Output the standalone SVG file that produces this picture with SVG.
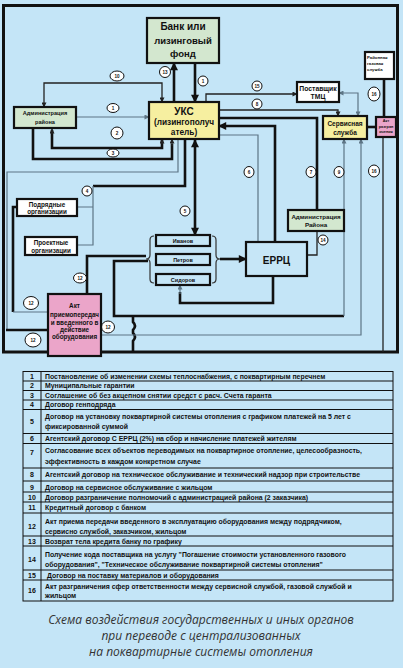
<svg xmlns="http://www.w3.org/2000/svg" width="403" height="668" viewBox="0 0 403 668">
<defs>
<style>
.t{font-family:"Liberation Sans",Arial,sans-serif;font-weight:bold;fill:#111;text-anchor:middle}
.tl{font-family:"Liberation Sans",Arial,sans-serif;font-weight:bold;fill:#111}
.box{stroke:#111;stroke-width:2.2}
.green{fill:#d3e7cf}
.yellow{fill:#f6efa0}
.pink{fill:#eba5c9}
.white{fill:#fff}
.blue{fill:#c6e6f7}
.thick{stroke:#111;stroke-width:2.6;fill:none}
.med{stroke:#222;stroke-width:1.3;fill:none}
.thin{stroke:#5d7585;stroke-width:1.2;fill:none}
.circ{fill:#fff;stroke:#111;stroke-width:1}
.ct{font-family:"Liberation Sans",Arial,sans-serif;font-weight:bold;font-size:4.6px;fill:#111;text-anchor:middle}
.row{font-family:"Liberation Sans",Arial,sans-serif;font-weight:bold;font-size:6.9px;fill:#111}
.num{font-family:"Liberation Sans",Arial,sans-serif;font-weight:bold;font-size:7px;fill:#111;text-anchor:middle}
.cap{font-family:"Open Sans","Noto Sans",sans-serif;font-style:italic;font-size:12px;fill:#333;text-anchor:middle}
</style>
<marker id="aL" viewBox="0 0 10 10" refX="9" refY="5" markerWidth="9" markerHeight="8" markerUnits="userSpaceOnUse" orient="auto-start-reverse"><path d="M0,0 L10,5 L0,10 z" fill="#111"/></marker>
<marker id="aS" viewBox="0 0 10 10" refX="9" refY="5" markerWidth="6" markerHeight="5" markerUnits="userSpaceOnUse" orient="auto-start-reverse"><path d="M0,0 L10,5 L0,10 z" fill="#222"/></marker>
<marker id="aG" viewBox="0 0 10 10" refX="9" refY="5" markerWidth="6" markerHeight="5" markerUnits="userSpaceOnUse" orient="auto-start-reverse"><path d="M0,0 L10,5 L0,10 z" fill="#5d7585"/></marker>
</defs>
<rect x="0" y="0" width="403" height="668" fill="#c4e5f7"/>
<rect x="3.5" y="5.5" width="394" height="346.5" fill="none" stroke="#111" stroke-width="3"/>

<g id="connectors">
<line class="thick" x1="195" y1="63" x2="195" y2="102" marker-end="url(#aL)"/>
<line class="thick" x1="174" y1="102" x2="174" y2="63" marker-end="url(#aL)"/>
<path class="med" d="M44,107 L44,83 L162,83 L162,102" marker-start="url(#aS)" marker-end="url(#aS)"/>
<line class="thin" x1="76" y1="117" x2="149" y2="117" marker-end="url(#aG)"/>
<path class="thick" d="M52,130 L52,148 L162,148 L162,140"/>
<path class="med" d="M52,134 L52,129" marker-end="url(#aS)"/>
<path class="med" d="M162,144 L162,139" marker-end="url(#aS)"/>
<path class="thick" d="M33,128 L33,159 L172,159 L172,144"/>
<path class="med" d="M172,146 L172,139" marker-end="url(#aS)"/>
<path class="thin" d="M178,139 L178,172 L7,172 L7,330"/>
<line class="thick" x1="6" y1="330" x2="48" y2="330"/>
<path class="thick" d="M185,139 L185,186 L93,186"/>
<path class="thin" d="M93,186 L93,245 L77,245 M93,207 L77,207"/>
<line class="thick" x1="195" y1="140" x2="195" y2="235" marker-start="url(#aL)" marker-end="url(#aL)"/>
<path class="med" d="M206,102 L206,94 L297,94" marker-end="url(#aS)"/>
<path class="med" d="M219,110 L338,110 L338,116" marker-end="url(#aS)"/>
<path class="thin" d="M339,93 L358,93 L358,116" marker-start="url(#aG)" marker-end="url(#aG)"/>
<path class="thick" d="M219,118 L317,118 L317,210"/>
<path class="thick" d="M275,242 L275,126 L219,126" marker-end="url(#aL)"/>
<path class="thin" d="M219,135 L258,135 L258,242"/>
<line class="thick" x1="367" y1="127" x2="376" y2="127"/>
<line class="thick" x1="384" y1="79" x2="384" y2="117"/>
<line class="med" x1="383" y1="137" x2="383" y2="352"/>
<path class="thick" d="M148,261 L114,261 L114,316 L344,316"/>
<path class="thin" d="M344,316 L344,139" marker-end="url(#aG)"/>
<path class="thick" d="M133,316 L133,322 Q137,326 133,330 L133,333 Q137,337 133,341 L133,352"/>
<path class="thin" d="M101,335 L361,335 L361,139" marker-end="url(#aG)"/>
<path class="thick" d="M17,207 L13,207 L13,312"/>
<line class="thin" x1="13" y1="312" x2="48" y2="312"/>
<path class="thick" d="M87,294 L87,256 L146,256"/>
<path class="thick" d="M273,276 L273,303 L180,303 L180,292"/>
<path class="thin" d="M180,294 L180,285" marker-end="url(#aG)"/>
<path class="med" d="M317,231 L317,255 L307,255"/>
<path d="M154,236 Q150,236 150,240 L150,255 Q150,259 146,259 Q150,259 150,263 L150,279 Q150,283 154,283" fill="none" stroke="#333" stroke-width="1.2"/>
<path d="M212,236 Q216,236 216,240 L216,255 Q216,259 220,259 Q216,259 216,263 L216,279 Q216,283 212,283" fill="none" stroke="#333" stroke-width="1.2"/>
<line class="thick" x1="220" y1="259" x2="246" y2="259" marker-end="url(#aL)"/>
</g>

<g id="labels">
<ellipse class="circ" cx="117" cy="76" rx="7" ry="5"/><text class="ct" x="117" y="77.7">10</text>
<ellipse class="circ" cx="165" cy="72" rx="5.5" ry="5.5"/><text class="ct" x="165" y="73.7">13</text>
<ellipse class="circ" cx="203" cy="81" rx="5" ry="5"/><text class="ct" x="203" y="82.7">1</text>
<ellipse class="circ" cx="113" cy="108" rx="6" ry="4.5"/><text class="ct" x="113" y="109.7">1</text>
<ellipse class="circ" cx="117" cy="133" rx="6" ry="6"/><text class="ct" x="117" y="134.7">2</text>
<ellipse class="circ" cx="113" cy="153" rx="6" ry="4"/><text class="ct" x="113" y="154.7">3</text>
<ellipse class="circ" cx="257" cy="86" rx="5" ry="5"/><text class="ct" x="257" y="87.7">15</text>
<ellipse class="circ" cx="257" cy="104" rx="5" ry="5"/><text class="ct" x="257" y="105.7">8</text>
<ellipse class="circ" cx="374" cy="94" rx="6" ry="7"/><text class="ct" x="374" y="95.7">16</text>
<ellipse class="circ" cx="249" cy="172" rx="5" ry="5.5"/><text class="ct" x="249" y="173.7">6</text>
<ellipse class="circ" cx="311" cy="172" rx="5" ry="5.5"/><text class="ct" x="311" y="173.7">7</text>
<ellipse class="circ" cx="339" cy="172" rx="5" ry="5.5"/><text class="ct" x="339" y="173.7">9</text>
<ellipse class="circ" cx="374" cy="171" rx="5.5" ry="6"/><text class="ct" x="374" y="172.7">16</text>
<ellipse class="circ" cx="87" cy="191" rx="5" ry="5"/><text class="ct" x="87" y="192.7">4</text>
<ellipse class="circ" cx="185" cy="211" rx="5" ry="5"/><text class="ct" x="185" y="212.7">5</text>
<ellipse class="circ" cx="323" cy="240" rx="5" ry="5"/><text class="ct" x="323" y="241.7">14</text>
<ellipse class="circ" cx="80" cy="278" rx="6.5" ry="5"/><text class="ct" x="80" y="279.7">12</text>
<ellipse class="circ" cx="31" cy="303" rx="7.5" ry="6.5"/><text class="ct" x="31" y="304.7">12</text>
<ellipse class="circ" cx="108" cy="327" rx="6.5" ry="6"/><text class="ct" x="108" y="328.7">12</text>
<ellipse class="circ" cx="33" cy="340" rx="8" ry="7"/><text class="ct" x="33" y="341.7">12</text>
</g>

<g id="bank"><rect class="box green" x="147" y="18" width="72" height="45"/>
<text class="t" x="183" y="30" font-size="10">Банк или</text>
<text class="t" x="183" y="44" font-size="9.5" font-weight="normal">лизинговый</text>
<text class="t" x="183" y="57" font-size="9.5" font-weight="normal">фонд</text></g>

<g id="uks"><rect class="box yellow" x="149" y="102" width="70" height="37"/>
<text class="t" x="184" y="114.5" font-size="10">УКС</text>
<text class="t" x="184" y="125" font-size="8.3">(лизингополуч</text>
<text class="t" x="184" y="135" font-size="8.3">атель)</text></g>

<g id="admin-left"><rect class="box green" x="14" y="107" width="62" height="21"/>
<text class="t" x="45" y="115" font-size="5.6">Администрация</text>
<text class="t" x="45" y="123.5" font-size="5.6">района</text></g>

<g id="supplier"><rect class="box white" x="297" y="82" width="42" height="20"/>
<text class="t" x="318" y="90.5" font-size="6.8">Поставщик</text>
<text class="t" x="318" y="99" font-size="6.8">ТМЦ</text></g>

<g id="service"><rect class="box yellow" x="323" y="116" width="44" height="23"/>
<text class="t" x="345" y="126" font-size="6.5">Сервисная</text>
<text class="t" x="345" y="135" font-size="6.5">служба</text></g>

<g id="gas"><rect class="box white" x="365" y="52" width="29" height="27"/>
<text class="tl" x="367" y="59" font-size="4.3">Районная</text>
<text class="tl" x="367" y="65" font-size="4.3">газовая</text>
<text class="tl" x="367" y="71" font-size="4.3">служба</text></g>

<g id="akt-razgr"><rect class="box pink" x="376" y="117" width="20" height="20" stroke-width="1.5"/>
<text class="t" x="386" y="122" font-size="3.8">Акт</text>
<text class="t" x="386" y="127.5" font-size="3.8">разгран</text>
<text class="t" x="386" y="132.5" font-size="3.8">ичения</text></g>

<g id="podryad"><rect class="box white" x="17" y="199" width="60" height="17"/>
<text class="t" x="47" y="206.5" font-size="6.3">Подрядные</text>
<text class="t" x="47" y="214" font-size="6.3">организации</text></g>

<g id="proekt"><rect class="box white" x="25" y="237" width="52" height="18"/>
<text class="t" x="51" y="245" font-size="6.3">Проектные</text>
<text class="t" x="51" y="252.5" font-size="6.3">организации</text></g>

<g id="ivanov"><rect class="box blue" x="156" y="235" width="54" height="11" stroke-width="1.8"/><text class="t" x="183" y="242.5" font-size="5.5">Иванов</text></g>
<g id="petrov"><rect class="box blue" x="156" y="254" width="54" height="11" stroke-width="1.8"/><text class="t" x="183" y="261.5" font-size="5.5">Петров</text></g>
<g id="sidorov"><rect class="box blue" x="156" y="274" width="54" height="11" stroke-width="1.8"/><text class="t" x="183" y="281.5" font-size="5.5">Сидоров</text></g>

<g id="errc"><rect class="box blue" x="246" y="242" width="61" height="34" stroke-width="2.5"/>
<text class="t" x="276.5" y="263.5" font-size="10">ЕРРЦ</text></g>

<g id="admin-right"><rect class="box green" x="288" y="210" width="56" height="21"/>
<text class="t" x="316" y="218.5" font-size="6.2">Администрация</text>
<text class="t" x="316" y="226.5" font-size="6.2">Района</text></g>

<g id="akt"><rect class="box pink" x="48" y="294" width="53" height="62"/>
<text class="t" x="74.5" y="308" font-size="6.3">Акт</text>
<text class="t" x="74.5" y="317" font-size="6.3">приемопередач</text>
<text class="t" x="74.5" y="325" font-size="6.3">и введенного в</text>
<text class="t" x="74.5" y="332" font-size="6.3">действие</text>
<text class="t" x="74.5" y="339" font-size="6.3">оборудования</text></g>

<g id="table">
<g stroke="#111" stroke-width="1" fill="none">
<rect x="23" y="371.5" width="370" height="229.5"/>
<line x1="41" y1="371.5" x2="41" y2="601"/>
<path d="M23,381 H393 M23,390.5 H393 M23,400 H393 M23,409.5 H393 M23,433.5 H393 M23,443.5 H393 M23,468 H393 M23,481 H393 M23,492 H393 M23,502 H393 M23,513 H393 M23,536 H393 M23,546 H393 M23,570 H393 M23,580 H393"/>
</g>
<text class="num" x="32" y="378.5">1</text><text class="row" x="45" y="378.5">Постановление об изменении схемы теплоснабжения, с поквартирным перечнем</text>
<text class="num" x="32" y="388">2</text><text class="row" x="45" y="388">Муниципальные гарантии</text>
<text class="num" x="32" y="397.5">3</text><text class="row" x="45" y="397.5">Соглашение об без акцепном снятии средст с расч. Счета гаранта</text>
<text class="num" x="32" y="407">4</text><text class="row" x="45" y="407">Договор генподряда</text>
<text class="num" x="32" y="424">5</text><text class="row" x="45" y="418.5">Договор на установку поквартирной системы отопления с графиком платежей на 5 лет с</text><text class="row" x="45" y="428.5">фиксированной суммой</text>
<text class="num" x="32" y="441">6</text><text class="row" x="45" y="441">Агентский договор С ЕРРЦ (2%) на сбор и начисление платежей жителям</text>
<text class="num" x="32" y="455">7</text><text class="row" x="45" y="453">Согласование всех объектов переводимых на поквартирное отопление, целесообразность,</text><text class="row" x="45" y="464">эффективность в каждом конкретном случае</text>
<text class="num" x="32" y="476.5">8</text><text class="row" x="45" y="476.5">Агентский договор на техническое обслуживание и технический надзор при строительстве</text>
<text class="num" x="32" y="489.5">9</text><text class="row" x="45" y="489.5">Договор на сервисное обслуживание с жильцом</text>
<text class="num" x="32" y="499.5">10</text><text class="row" x="45" y="499.5">Договор разграничение полномочий с администрацией района (2 заказчика)</text>
<text class="num" x="32" y="509.5">11</text><text class="row" x="45" y="509.5">Кредитный договор с банком</text>
<text class="num" x="32" y="528.5">12</text><text class="row" x="45" y="523.5">Акт приема передачи введенного в эксплуатацию оборудования между подрядчиком,</text><text class="row" x="45" y="533.5">сервисно службой, заказчиком, жильцом</text>
<text class="num" x="32" y="543.5">13</text><text class="row" x="45" y="543.5">Возврат тела кредита банку по графику</text>
<text class="num" x="32" y="561.5">14</text><text class="row" x="45" y="556.5">Получение кода поставщика на услугу "Погашение стоимости установленного газового</text><text class="row" x="45" y="566.5">оборудования", "Техническое обслуживание поквартирной системы отопления"</text>
<text class="num" x="32" y="577.5">15</text><text class="row" x="47" y="577.5">Договор на поставку материалов и оборудования</text>
<text class="num" x="32" y="593">16</text><text class="row" x="45" y="588.5">Акт разграничения сфер ответственности между сервисной службой, газовой службой и</text><text class="row" x="45" y="597.5">жильцом</text>
</g>

<g id="caption">
<text class="cap" x="201" y="624">Схема воздействия государственных и иных органов</text>
<text class="cap" x="201" y="640">при переводе с централизованных</text>
<text class="cap" x="201" y="655.5">на поквартирные системы отопления</text>
</g>
</svg>
